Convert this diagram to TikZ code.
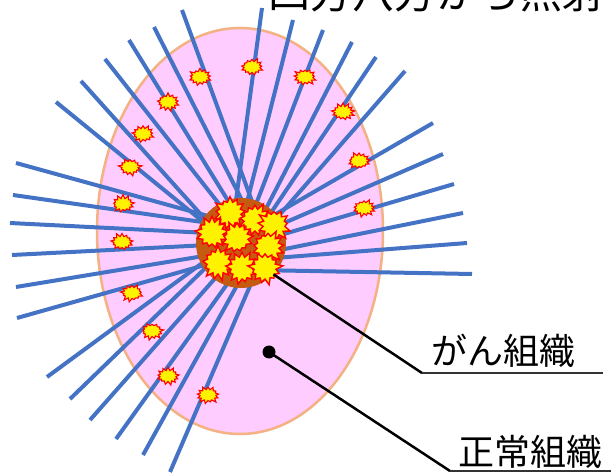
\documentclass[tikz,border=0pt]{standalone}
\usepackage{fontspec}
\newfontfamily\jpfont{Noto Sans CJK JP}
\usetikzlibrary{shapes.symbols}
\definecolor{tissue}{HTML}{FFCCFF}
\definecolor{tissueedge}{HTML}{F4B183}
\definecolor{beam}{HTML}{4472C4}
\definecolor{tumour}{HTML}{C55A11}
\tikzset{
  ray/.style={draw=beam, line width=4pt},
  hit/.style={shape=starburst, draw=red, fill=yellow, line width=1.1pt,
    starburst points=13, inner sep=0pt, minimum width=24pt,
    minimum height=19pt, starburst point height=4pt},
  bighit/.style={hit, minimum width=36pt, minimum height=36pt,
    starburst point height=7pt, line width=1.4pt},
  lead/.style={draw=black, line width=2.5pt},
  underl/.style={draw=black!80, line width=2pt},
  label/.style={font=\jpfont\fontsize{36}{40}\selectfont, inner sep=0pt, anchor=base west}
}
\begin{document}
\begin{tikzpicture}[x=1pt,y=-1pt]
\clip (0,0) rectangle (611,473);
\useasboundingbox (0,0) rectangle (611,473);

% heading
\node[font=\jpfont\fontsize{42}{46}\selectfont, anchor=base west, inner sep=0pt]
  (title) at (268,9) {四方八方から照射};

% normal tissue
\path[fill=tissue, draw=tissueedge, line width=2.5pt]
  (240,231) ellipse [x radius=143, y radius=203];

% beams from all directions
\foreach \ox/\oy/\tx/\ty in {
  182/10/257/215, 154/27/252/220, 129/40/243/225, 105/59/238/228,
  81/81/231/248, 56/102/228/242,
  262/8/234/215, 293/20/242/222, 323/30/248/225, 352/42/255/230,
  376/57/258/232, 405/71/262/235,
  433/123/262/222, 443/154/268/230, 454/184/267/239, 463/213/265/253,
  467/243/262/259, 472/274/255/270,
  16/163/230/222, 13/195/230/226, 10/223/228/234, 12/255/228/244,
  16/287/228/252, 17/318/230/258,
  47/377/220/250, 70/399/222/252, 90/420/233/258, 116/439/243/262,
  143/455/250/262, 170/472/259/265}
  \draw[ray] (\ox,\oy) -- (\tx,\ty);

% small hits in normal tissue
\foreach \x/\y [count=\i] in {200/77, 252/67, 305/77, 343/112, 359/161,
  364/208, 168/102, 143/134, 130/167, 123/204, 122/242, 132/293,
  152/331, 168/376, 208/395}
  \node[hit, random starburst=\i] (h\i) at (\x,\y) {};

% tumour
\node[circle, fill=tumour, minimum size=90pt, inner sep=0pt] (tumour) at (241,243) {};
\foreach \x/\y [count=\i] in {230/213, 255/220, 274/225, 212/233, 237/238,
  268/247, 218/263, 242/268, 265/268}
  \node[bighit, random starburst=\i] (b\i) at (\x,\y) {};

% labels
\node[label] (gan) at (431,364) {がん組織};
\node[label] (sei) at (458,465) {正常組織};
\coordinate (ganL) at (422,373);
\coordinate (ganR) at (603,373);
\coordinate (seiL) at (450,471);
\coordinate (seiR) at (611,471);
\node[circle, fill=black, minimum size=13pt, inner sep=0pt] (dot) at (269,352) {};

\draw[lead] (tumour.-44) -- (ganL);
\draw[underl] (ganL) -- (ganR);
\draw[lead] (dot.center) -- (seiL);
\draw[underl] (seiL) -- (seiR);
\end{tikzpicture}
\end{document}
